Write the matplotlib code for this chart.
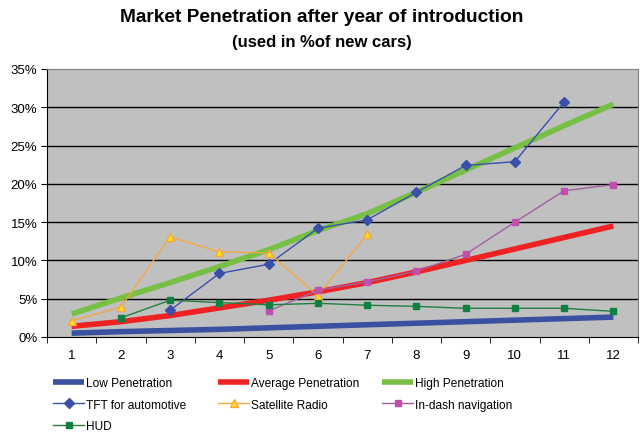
import matplotlib
matplotlib.use("Agg")
import matplotlib.pyplot as plt
import numpy as np

plt.rcParams['font.family'] = ['Liberation Sans', 'DejaVu Sans']

years = [1, 2, 3, 4, 5, 6, 7, 8, 9, 10, 11, 12]
low = [0.5, 0.7, 0.85, 1.0, 1.2, 1.4, 1.6, 1.8, 2.0, 2.2, 2.4, 2.6]
average = [1.4, 2.0, 2.8, 3.8, 4.8, 5.9, 7.1, 8.5, 10.0, 11.5, 13.0, 14.5]
high = [3.0, 5.1, 7.1, 9.2, 11.4, 13.9, 16.1, 18.9, 21.8, 24.7, 27.6, 30.4]
tft_x = [3, 4, 5, 6, 7, 8, 9, 10, 11]
tft = [3.5, 8.3, 9.5, 14.2, 15.3, 18.9, 22.4, 22.9, 30.7]
sat_x = [1, 2, 3, 4, 5, 6, 7]
sat = [2.1, 3.9, 13.1, 11.1, 11.0, 5.4, 13.4]
nav_x = [5, 6, 7, 8, 9, 10, 11, 12]
nav = [3.4, 6.1, 7.2, 8.6, 10.8, 15.0, 19.1, 19.9]
hud_x = [2, 3, 4, 5, 6, 7, 8, 9, 10, 11, 12]
hud = [2.5, 4.8, 4.5, 4.2, 4.4, 4.15, 4.0, 3.75, 3.75, 3.75, 3.35]
yticks = [0, 5, 10, 15, 20, 25, 30, 35]

fig = plt.figure(figsize=(6.44, 4.35), dpi=100)
ax = fig.add_axes([47/644, 1-338/435, 591/644, 268/435])
ax.set_facecolor('#C0C0C0')

h_low, = ax.plot(years, low, color='#3A50A0', lw=4, solid_capstyle='butt', label='Low Penetration', zorder=3)
h_avg, = ax.plot(years, average, color='#EE2222', lw=4, solid_capstyle='butt', label='Average Penetration', zorder=3)
h_high, = ax.plot(years, high, color='#77C045', lw=4, solid_capstyle='butt', label='High Penetration', zorder=3)
h_tft, = ax.plot(tft_x, tft, color='#3A50A8', lw=1, marker='D', ms=5, label='TFT for automotive', zorder=4)
h_sat, = ax.plot(sat_x, sat, color='#F4A940', lw=1, marker='^', ms=6, mfc='#FFE020', mec='#F4A940', label='Satellite Radio', zorder=4)
h_nav, = ax.plot(nav_x, nav, color='#A060A0', lw=1, marker='s', ms=5, mfc='#C050B0', mec='#C050B0', label='In-dash navigation', zorder=4)
h_hud, = ax.plot(hud_x, hud, color='#208040', lw=1, marker='s', ms=5, mfc='#108040', mec='#108040', label='HUD', zorder=4)

ax.set_xlim(0.5, 12.5)
ax.set_ylim(0, 35)
ax.set_yticks(yticks)
ax.set_yticklabels([f'{v}%' for v in yticks], fontsize=9.5)
ax.set_xticks(years)
ax.set_xticklabels([str(y) for y in years], fontsize=9.5)
ax.tick_params(axis='x', length=0, pad=9)
ax.set_xticks(np.arange(0.5, 13, 1), minor=True)
ax.tick_params(axis='x', which='minor', length=4, direction='out', color='black')
ax.tick_params(axis='y', length=4, direction='out', pad=3)
for v in yticks[1:-1]:
    ax.axhline(v, color='black', lw=1, zorder=1)
for s in ['top', 'right']:
    ax.spines[s].set_color('#808080')
for s in ['left', 'bottom']:
    ax.spines[s].set_color('black')

fig.text(0.5, 1-17/435, 'Market Penetration after year of introduction', ha='center', va='center',
         fontsize=13.8, fontweight='bold')
fig.text(0.5, 1-42/435, '(used in %of new cars)', ha='center', va='center',
         fontsize=12, fontweight='bold')

cols = [([h_low, h_tft, h_hud], 53), ([h_avg, h_sat], 218), ([h_high, h_nav], 382)]
for handles, x0 in cols:
    leg = fig.legend(handles=handles, labels=[h.get_label() for h in handles],
                     loc='upper left', bbox_to_anchor=(x0/644, 1-378/435), ncol=1, frameon=False,
                     fontsize=8.6, handlelength=2.6, handletextpad=0.2, labelspacing=0.8,
                     borderpad=0, borderaxespad=0)
fig.savefig('out.png', dpi=100)
